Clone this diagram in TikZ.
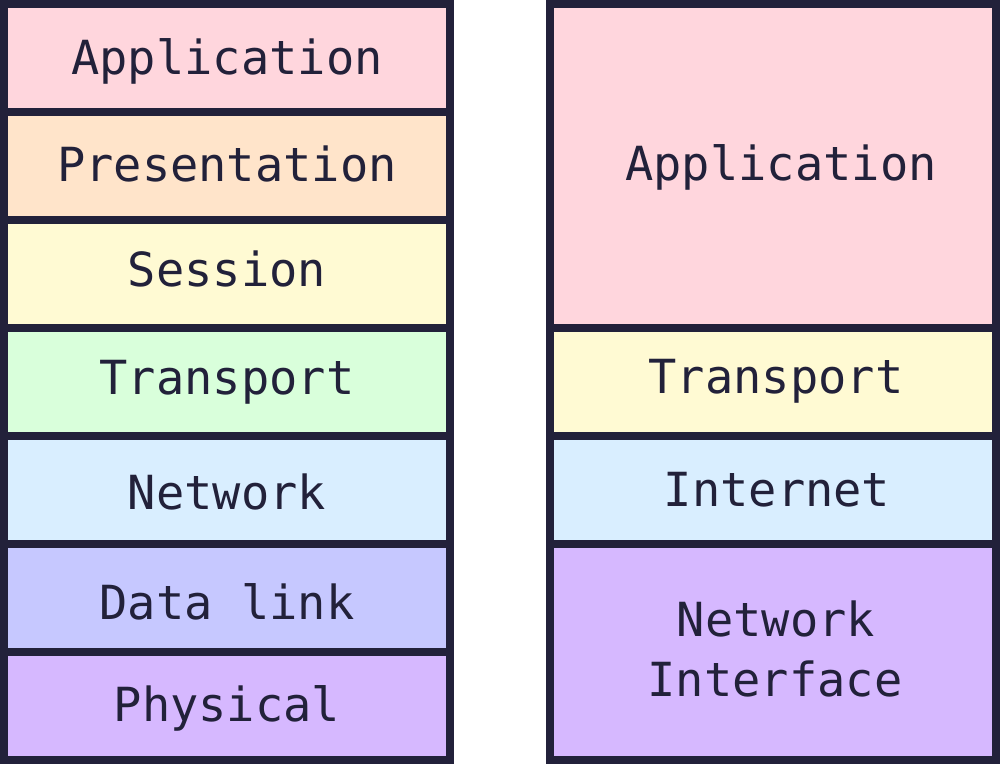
\documentclass[tikz,border=0pt]{standalone}
\usepackage{fontspec}
\newfontfamily\labelfont{DejaVu Sans Mono}
\definecolor{edge}{HTML}{22213A}
\definecolor{cpink}{HTML}{FFD6DD}
\definecolor{cpeach}{HTML}{FFE4CA}
\definecolor{cyellow}{HTML}{FFFAD3}
\definecolor{cgreen}{HTML}{D9FFDB}
\definecolor{cblue}{HTML}{D9EEFF}
\definecolor{cperi}{HTML}{C6C8FF}
\definecolor{cpurple}{HTML}{D6B8FF}
\tikzset{
  cell/.style={draw=edge, line width=8pt},
  lbl/.style={anchor=base, inner sep=0pt, text=edge, font=\labelfont\fontsize{47}{58}\selectfont}
}
\begin{document}
\begin{tikzpicture}[x=1pt,y=-1pt]
\useasboundingbox (0,0) rectangle (1000,764);
% left column (OSI)
\path[cell, fill=cpink]   (4,4)   rectangle (450,112);
\path[cell, fill=cpeach]  (4,112) rectangle (450,220);
\path[cell, fill=cyellow] (4,220) rectangle (450,328);
\path[cell, fill=cgreen]  (4,328) rectangle (450,436);
\path[cell, fill=cblue]   (4,436) rectangle (450,544);
\path[cell, fill=cperi]   (4,544) rectangle (450,652);
\path[cell, fill=cpurple] (4,652) rectangle (450,760);
% right column (TCP/IP)
\path[cell, fill=cpink]   (550,4)   rectangle (996,328);
\path[cell, fill=cyellow] (550,328) rectangle (996,436);
\path[cell, fill=cblue]   (550,436) rectangle (996,544);
\path[cell, fill=cpurple] (550,544) rectangle (996,760);
% labels left
\node[lbl] (oApp)  at (227,74.3)  {Application};
\node[lbl] (oPres) at (227,181.7) {Presentation};
\node[lbl] (oSess) at (227,286.7) {Session};
\node[lbl] (oTran) at (227,394)   {Transport};
\node[lbl] (oNet)  at (227,509.3) {Network};
\node[lbl] (oData) at (227,619.3) {Data link};
\node[lbl] (oPhy)  at (227,721.7) {Physical};
% labels right
\node[lbl] (tApp)  at (781,180.7) {Application};
\node[lbl] (tTran) at (776,393.3) {Transport};
\node[lbl] (tInet) at (777,506.7) {Internet};
\node[lbl] (tNI1)  at (776,636)   {Network};
\node[lbl] (tNI2)  at (775,696)   {Interface};
\end{tikzpicture}
\end{document}
